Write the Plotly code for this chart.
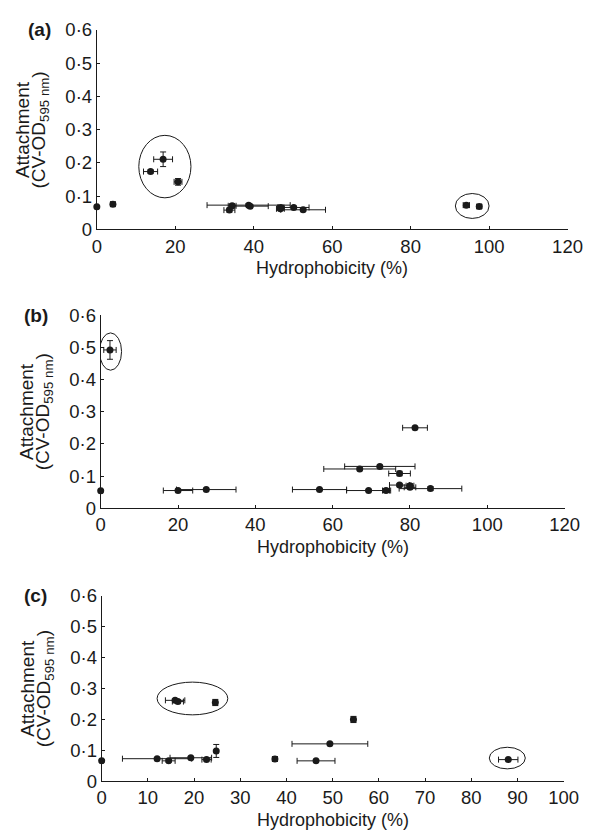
import plotly.graph_objects as go

# ---------------- data ----------------
# Panel (a)
hyd_a = [0, 4.1, 16.9, 13.7, 20.7, 34.5, 33.8, 38.7, 39.1, 46.9, 46.8, 50.2, 52.6, 94.2, 97.5]
att_a = [0.068, 0.076, 0.211, 0.174, 0.143, 0.071, 0.058, 0.073, 0.070, 0.066, 0.062, 0.066, 0.059, 0.073, 0.069]
hyd_err_a = [0.3, 0.6, 2.4, 1.8, 1.0, 1.0, 1.4, 10.6, 4.6, 0.8, 1.0, 3.9, 5.7, 0.8, 0.6]
att_err_a = [0.004, 0.006, 0.022, 0.005, 0.010, 0.006, 0.006, 0.004, 0.004, 0.006, 0.005, 0.004, 0.004, 0.006, 0.006]

# Panel (b)
hyd_b = [2.4, 0, 20.0, 27.3, 56.6, 69.3, 73.8, 77.3, 80.0, 80.0, 85.3, 81.3, 72.2, 67.0, 77.3]
att_b = [0.492, 0.054, 0.055, 0.058, 0.058, 0.055, 0.055, 0.072, 0.070, 0.065, 0.061, 0.250, 0.130, 0.122, 0.108]
hyd_err_b = [1.6, 0.4, 3.8, 7.7, 7.0, 5.7, 0.9, 2.6, 1.0, 1.5, 8.1, 3.2, 9.1, 9.3, 2.8]
att_err_b = [0.029, 0.003, 0.004, 0.004, 0.003, 0.003, 0.006, 0.005, 0.006, 0.005, 0.006, 0.003, 0.004, 0.003, 0.007]

# Panel (c)
hyd_c = [0, 12.0, 19.3, 14.5, 22.7, 24.8, 15.9, 16.5, 24.6, 37.5, 54.5, 49.4, 46.4, 88.0]
att_c = [0.066, 0.073, 0.076, 0.066, 0.070, 0.098, 0.262, 0.258, 0.255, 0.072, 0.200, 0.121, 0.066, 0.070]
hyd_err_c = [0.3, 7.5, 4.5, 1.4, 1.0, 0.3, 2.1, 1.2, 0.5, 0.5, 0.5, 8.2, 4.1, 2.1]
att_err_c = [0.003, 0.003, 0.004, 0.004, 0.004, 0.021, 0.004, 0.006, 0.010, 0.008, 0.010, 0.003, 0.003, 0.003]

# highlighted groups (ellipses): x0, x1, y0, y1 in data units
groups_a = [[10.7, 24.0, 0.095, 0.283], [91.4, 100.0, 0.033, 0.108]]
groups_b = [[-0.3, 5.4, 0.429, 0.545]]
groups_c = [[12.0, 27.3, 0.215, 0.321], [83.9, 91.7, 0.040, 0.110]]

panel_labels = ["(a)", "(b)", "(c)"]
y_ticks = [0, 0.1, 0.2, 0.3, 0.4, 0.5, 0.6]
y_ticktext = ["0", "0·1", "0·2", "0·3", "0·4", "0·5", "0·6"]
x_range_a = [0, 120]
x_range_b = [0, 120]
x_range_c = [0, 100]
x_dtick_a = 20
x_dtick_b = 20
x_dtick_c = 10

# ---------------- layout helpers ----------------
W, H = 598, 839
FONT = "Arial, Liberation Sans, Helvetica, sans-serif"
INK = "#1a1a1a"

# pixel boxes of plot areas: (left, right, top, bottom)
boxes = [(95, 582, 19.5, 224), (99, 579, 312, 510), (100, 578, 600, 790)]
label_pos = [(36, 19), (32, 312), (32, 600)]

def px_x(p):
    return p / W

def px_y(p):
    return 1 - p / H

fig = go.Figure()

panels = [
    (hyd_a, att_a, hyd_err_a, att_err_a, groups_a, x_range_a, x_dtick_a),
    (hyd_b, att_b, hyd_err_b, att_err_b, groups_b, x_range_b, x_dtick_b),
    (hyd_c, att_c, hyd_err_c, att_err_c, groups_c, x_range_c, x_dtick_c),
]

annotations = []
shapes = []
for i, (hx, at, hxe, ate, groups, xr, dt) in enumerate(panels):
    n = i + 1
    xa = "x" if n == 1 else f"x{n}"
    ya = "y" if n == 1 else f"y{n}"
    fig.add_trace(go.Scatter(
        x=hx, y=at, mode="markers", xaxis=xa, yaxis=ya,
        marker=dict(color=INK, size=7, symbol="circle"),
        error_x=dict(type="data", array=hxe, color=INK, thickness=1, width=3),
        error_y=dict(type="data", array=ate, color=INK, thickness=1, width=3),
        cliponaxis=False, showlegend=False,
    ))
    l, r, t, b = boxes[i]
    axis_common = dict(
        showline=True, linecolor=INK, linewidth=1, ticks="inside", ticklen=3,
        tickcolor=INK, showgrid=False, zeroline=False,
        tickfont=dict(family=FONT, size=18.5, color=INK),
    )
    fig.layout[f"xaxis{'' if n == 1 else n}"] = dict(
        domain=[px_x(l), px_x(r)], anchor=ya, range=xr,
        tickmode="linear", tick0=0, dtick=dt, **axis_common,
    )
    fig.layout[f"yaxis{'' if n == 1 else n}"] = dict(
        domain=[px_y(b), px_y(t)], anchor=xa, range=[0, 0.6],
        tickmode="array", tickvals=y_ticks, ticktext=y_ticktext, **axis_common,
    )
    for g in groups:
        shapes.append(dict(type="circle", xref=xa, yref=ya,
                           x0=g[0], x1=g[1], y0=g[2], y1=g[3],
                           line=dict(color=INK, width=1)))
    # panel label
    lx, ly = label_pos[i]
    annotations.append(dict(text=f"<b>{panel_labels[i]}</b>", x=px_x(lx), y=px_y(ly),
                            xref="paper", yref="paper", showarrow=False,
                            xanchor="center", yanchor="middle",
                            font=dict(family=FONT, size=19, color=INK)))
    # x title
    annotations.append(dict(text="Hydrophobicity (%)", x=px_x((l + r) / 2), y=px_y(b + 40),
                            xref="paper", yref="paper", showarrow=False,
                            xanchor="center", yanchor="middle",
                            font=dict(family=FONT, size=18, color=INK)))
    # y title (two lines)
    yc = (t + b) / 2
    annotations.append(dict(text="Attachment", x=px_x(l - 77), y=px_y(yc),
                            xref="paper", yref="paper", showarrow=False, textangle=-90,
                            xanchor="center", yanchor="middle",
                            font=dict(family=FONT, size=19, color=INK)))
    annotations.append(dict(text="(CV-OD<sub>595 nm</sub>)", x=px_x(l - 59), y=px_y(yc),
                            xref="paper", yref="paper", showarrow=False, textangle=-90,
                            xanchor="center", yanchor="middle",
                            font=dict(family=FONT, size=19, color=INK)))

fig.update_layout(
    width=W, height=H, margin=dict(l=0, r=0, t=0, b=0),
    paper_bgcolor="white", plot_bgcolor="white",
    annotations=annotations, shapes=shapes,
)

fig.write_html("out.html")
